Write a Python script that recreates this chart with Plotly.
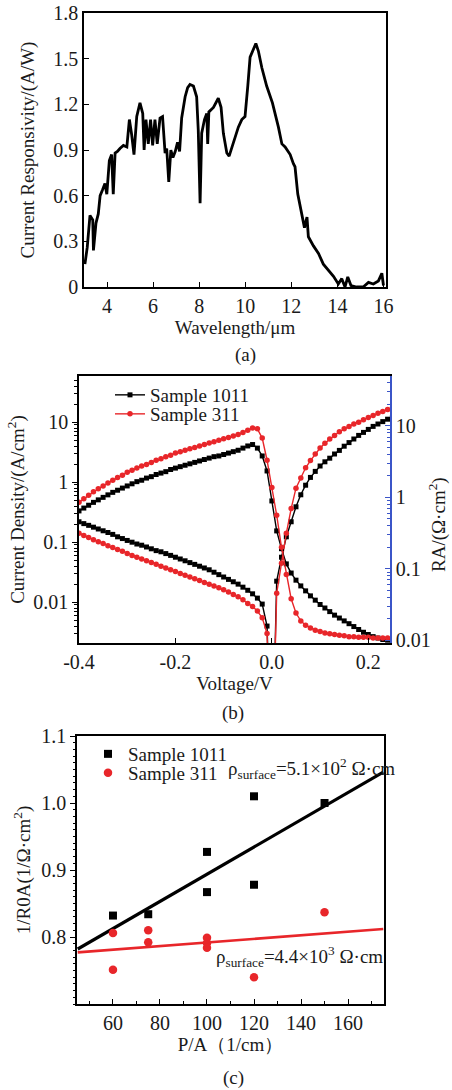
import plotly.graph_objects as go

W, H = 452, 1090
FONT = "Liberation Serif"
INK = "#1a1a1a"

# ---------------- (a) spectral current responsivity ----------------
wavelength = [3.04, 3.14, 3.26, 3.38, 3.41, 3.52, 3.62, 3.70, 3.81, 3.91, 3.99,
              4.10, 4.20, 4.27, 4.35, 4.45, 4.56, 4.71, 4.86, 4.97, 5.07, 5.17,
              5.29, 5.43, 5.55, 5.61, 5.69, 5.79, 5.89, 5.98, 6.08, 6.18, 6.30,
              6.41, 6.52, 6.59, 6.68, 6.77, 6.86, 6.96, 7.06, 7.15, 7.24, 7.39,
              7.50, 7.60, 7.75, 7.89, 7.96, 8.04, 8.11, 8.23, 8.33, 8.37, 8.42,
              8.62, 8.83, 8.95, 9.05, 9.20, 9.30, 9.48, 9.70, 9.85, 9.99, 10.11,
              10.21, 10.35, 10.46, 10.57, 10.72, 10.93, 11.18, 11.44, 11.59,
              11.73, 11.95, 12.09, 12.16, 12.28, 12.42, 12.57, 12.68, 12.74,
              12.96, 13.18, 13.39, 13.61, 13.83, 14.04, 14.19, 14.33, 14.45,
              14.59, 14.83, 15.12, 15.35, 15.56, 15.78, 15.93, 16.00]
responsivity = [0.15, 0.26, 0.47, 0.44, 0.24, 0.42, 0.48, 0.60, 0.64, 0.68, 0.61,
                0.83, 0.87, 0.61, 0.88, 0.89, 0.91, 0.93, 0.92, 1.10, 1.00, 0.87,
                1.12, 1.21, 1.14, 0.90, 1.10, 0.94, 1.10, 0.93, 1.10, 0.94, 1.11,
                1.12, 0.88, 0.91, 0.69, 0.90, 0.85, 0.89, 0.95, 0.89, 1.11, 1.25,
                1.31, 1.33, 1.32, 1.25, 1.03, 0.55, 1.01, 1.10, 1.14, 0.94, 1.15,
                1.18, 1.24, 1.18, 1.01, 0.88, 0.86, 0.95, 1.05, 1.10, 1.12, 1.32,
                1.51, 1.56, 1.60, 1.55, 1.44, 1.32, 1.21, 1.05, 0.94,
                0.92, 0.87, 0.81, 0.79, 0.61, 0.50, 0.39, 0.46, 0.33,
                0.27, 0.22, 0.15, 0.11, 0.07, 0.02, 0.055, 0.0, 0.066,
                0.01, 0.0, 0.0, 0.03, 0.02, 0.04, 0.09, 0.01]

# ---------------- (b) J-V and RA-V ----------------
voltage = [-0.40, -0.39, -0.38, -0.37, -0.36, -0.35, -0.34, -0.33, -0.32, -0.31,
           -0.30, -0.29, -0.28, -0.27, -0.26, -0.25, -0.24, -0.23, -0.22, -0.21,
           -0.20, -0.19, -0.18, -0.17, -0.16, -0.15, -0.14, -0.13, -0.12, -0.11,
           -0.10, -0.09, -0.08, -0.07, -0.06, -0.05, -0.04, -0.03, -0.02, -0.01,
           0.00, 0.01, 0.02, 0.03, 0.04, 0.05, 0.06, 0.07, 0.08, 0.09,
           0.10, 0.11, 0.12, 0.13, 0.14, 0.15, 0.16, 0.17, 0.18, 0.19,
           0.20, 0.21, 0.22, 0.23, 0.24, 0.25]
j_1011 = [0.219, 0.204, 0.191, 0.178, 0.166, 0.155, 0.145, 0.135, 0.123, 0.115,
          0.107, 0.100, 0.0933, 0.0891, 0.0832, 0.0776, 0.0724, 0.0692, 0.0646, 0.0603,
          0.0562, 0.0525, 0.0490, 0.0457, 0.0427, 0.0398, 0.0372, 0.0347, 0.0316, 0.0288,
          0.0263, 0.0240, 0.0219, 0.0200, 0.0178, 0.0158, 0.0138, 0.0117, 0.0093, 0.0040,
          0.00001, 0.0224, 0.0562, 0.123, 0.219, 0.389, 0.617, 0.891, 1.202, 1.514,
          1.862, 2.188, 2.512, 2.951, 3.388, 3.981, 4.571, 5.248, 6.026, 6.761,
          7.586, 8.511, 9.333, 10.23, 11.22, 12.02]
j_311 = [0.141, 0.129, 0.120, 0.110, 0.102, 0.0955, 0.0871, 0.0813, 0.0759, 0.0708,
         0.0646, 0.0603, 0.0562, 0.0525, 0.0490, 0.0457, 0.0427, 0.0398, 0.0372, 0.0347,
         0.0324, 0.0302, 0.0282, 0.0263, 0.0245, 0.0229, 0.0214, 0.0200, 0.0186, 0.0174,
         0.0162, 0.0148, 0.0135, 0.0123, 0.0110, 0.0095, 0.0085, 0.0071, 0.0055, 0.0030,
         0.00001, 0.0141, 0.0447, 0.141, 0.363, 0.794, 1.175, 1.738, 2.291, 2.951,
         3.715, 4.467, 5.248, 6.026, 6.918, 7.762, 8.511, 9.333, 10.0, 10.96,
         12.02, 12.88, 14.13, 15.14, 16.22, 17.38]
ra_1011 = [0.646, 0.708, 0.776, 0.851, 0.923, 1.000, 1.084, 1.175, 1.259, 1.349,
           1.445, 1.549, 1.660, 1.738, 1.862, 1.950, 2.089, 2.188, 2.291, 2.455,
           2.570, 2.692, 2.818, 2.951, 3.090, 3.236, 3.388, 3.548, 3.715, 3.802,
           3.981, 4.169, 4.365, 4.571, 4.898, 5.248, 5.495, 4.898, 3.802, 2.344,
           0.891, 0.339, 0.191, 0.117, 0.0871, 0.0692, 0.0575, 0.0490, 0.0417, 0.0363,
           0.0316, 0.0282, 0.0251, 0.0224, 0.0204, 0.0186, 0.0170, 0.0155, 0.0141, 0.0129,
           0.0120, 0.0112, 0.0107, 0.0102, 0.0100, 0.0098]
ra_311 = [0.851, 0.955, 1.072, 1.202, 1.318, 1.445, 1.585, 1.738, 1.905, 2.042,
          2.239, 2.399, 2.570, 2.754, 2.884, 3.090, 3.311, 3.467, 3.715, 3.890,
          4.169, 4.365, 4.571, 4.786, 5.012, 5.248, 5.495, 5.754, 6.026, 6.310,
          6.607, 6.918, 7.244, 7.586, 8.128, 8.710, 9.333, 9.120, 6.761, 3.311,
          1.380, 0.562, 0.200, 0.0832, 0.0380, 0.0240, 0.0186, 0.0162, 0.0148, 0.0138,
          0.0132, 0.0126, 0.0123, 0.0120, 0.0117, 0.0115, 0.0112, 0.0112, 0.0110, 0.0110,
          0.0110, 0.0107, 0.0107, 0.0107, 0.0107, 0.0107]

# ---------------- (c) 1/R0A versus P/A ----------------
pa_1011 = [60, 75, 100, 100, 120, 120, 150]
inv_r0a_1011 = [0.832, 0.834, 0.927, 0.867, 1.010, 0.878, 1.000]
pa_311 = [60, 60, 75, 75, 100, 100, 100, 120, 150]
inv_r0a_311 = [0.806, 0.751, 0.810, 0.792, 0.799, 0.791, 0.784, 0.740, 0.837]
fit_pa = [45, 175]
fit_1011 = [0.782, 1.046]
fit_311 = [0.777, 0.812]


def fx(p):
    return p / W


def fy(p):
    return 1 - p / H


RED = "#e8262a"
BLUE = "#3b55c8"

fig = go.Figure()

# (a)
fig.add_trace(go.Scatter(x=wavelength, y=responsivity, mode="lines",
                         line=dict(color="black", width=2.8), showlegend=False,
                         xaxis="x", yaxis="y"))

# (b) current density on the left axis, RA on the right axis
fig.add_trace(go.Scatter(x=voltage, y=j_1011, mode="lines+markers", name="Sample 1011",
                         line=dict(color="black", width=1.4),
                         marker=dict(symbol="square", size=5, color="black"),
                         xaxis="x2", yaxis="y2", legend="legend", legendgroup="1011"))
fig.add_trace(go.Scatter(x=voltage, y=ra_1011, mode="lines+markers", name="Sample 1011",
                         line=dict(color="black", width=1.4),
                         marker=dict(symbol="square", size=5, color="black"),
                         xaxis="x2", yaxis="y3", showlegend=False, legendgroup="1011"))
fig.add_trace(go.Scatter(x=voltage, y=j_311, mode="lines+markers", name="Sample 311",
                         line=dict(color=RED, width=1.4),
                         marker=dict(symbol="circle", size=5.5, color=RED),
                         xaxis="x2", yaxis="y2", legend="legend2", legendgroup="311"))
fig.add_trace(go.Scatter(x=voltage, y=ra_311, mode="lines+markers", name="Sample 311",
                         line=dict(color=RED, width=1.4),
                         marker=dict(symbol="circle", size=5.5, color=RED),
                         xaxis="x2", yaxis="y3", showlegend=False, legendgroup="311"))

# (c)
fig.add_trace(go.Scatter(x=fit_pa, y=fit_1011, mode="lines", showlegend=False,
                         line=dict(color="black", width=3.2), xaxis="x3", yaxis="y4"))
fig.add_trace(go.Scatter(x=fit_pa, y=fit_311, mode="lines", showlegend=False,
                         line=dict(color=RED, width=2.6), xaxis="x3", yaxis="y4"))
fig.add_trace(go.Scatter(x=pa_1011, y=inv_r0a_1011, mode="markers", name="Sample 1011",
                         marker=dict(symbol="square", size=8, color="black"),
                         xaxis="x3", yaxis="y4", legend="legend3"))
fig.add_trace(go.Scatter(x=pa_311, y=inv_r0a_311, mode="markers", name="Sample 311",
                         marker=dict(symbol="circle", size=8.5, color=RED),
                         xaxis="x3", yaxis="y4", legend="legend4"))

tickfont = dict(family=FONT, size=20, color=INK)
titlefont = dict(family=FONT, size=19, color=INK)
frame = dict(showline=True, linecolor="black", linewidth=1.5, showgrid=False,
             zeroline=False, tickfont=tickfont, ticklen=5, tickcolor="black",
             automargin=False)

layout = dict(
    template="none",
    width=W, height=H, autosize=False,
    margin=dict(l=0, r=0, t=0, b=0),
    paper_bgcolor="white", plot_bgcolor="white",
    font=dict(family=FONT, size=19, color=INK),
    # (a)
    xaxis=dict(frame, domain=[fx(84), fx(386)], anchor="y", range=[3, 16.11],
               tickvals=[4, 6, 8, 10, 12, 14, 16], ticks="inside", mirror=True,
               title=dict(text="Wavelength/μm", font=titlefont, standoff=4)),
    yaxis=dict(frame, domain=[fy(287), fy(13)], anchor="x", range=[0, 1.8],
               tickvals=[0, 0.3, 0.6, 0.9, 1.2, 1.5, 1.8],
               ticktext=["0", "0.3", "0.6", "0.9", "1.2", "1.5", "1.8"],
               ticks="inside", mirror=True,
               title=dict(text="Current Responsivity/(A/W)", font=titlefont, standoff=14)),
    # (b)
    xaxis2=dict(frame, domain=[fx(79), fx(390)], anchor="y2", range=[-0.4, 0.245],
                tickvals=[-0.4, -0.2, 0.0, 0.2], ticktext=["-0.4", "-0.2", "0.0", "0.2"],
                ticks="inside", mirror=True,
                title=dict(text="Voltage/V", font=titlefont, standoff=4)),
    yaxis2=dict(frame, domain=[fy(643), fy(376)], anchor="x2", type="log",
                range=[-2.68, 1.77], tickvals=[0.01, 0.1, 1, 10],
                ticktext=["0.01", "0.1", "1", "10"], ticks="outside",
                minor=dict(ticks="outside", ticklen=3, tickcolor="black", dtick="D1"),
                title=dict(text="Current Density/(A/cm<sup>2</sup>)", font=titlefont,
                           standoff=4)),
    yaxis3=dict(frame, overlaying="y2", anchor="x2", side="right", type="log",
                range=[-2.04, 1.70], tickvals=[0.01, 0.1, 1, 10],
                ticktext=["0.01", "0.1", "1", "10"], ticks="inside",
                linecolor=BLUE, tickcolor=BLUE,
                minor=dict(ticks="inside", ticklen=3, tickcolor=BLUE, dtick="D1")),
    # (c)
    xaxis3=dict(frame, domain=[fx(77), fx(384)], anchor="y4", range=[44.7, 175.3],
                tickvals=[60, 80, 100, 120, 140, 160], ticks="inside", mirror=True,
                minor=dict(ticks="inside", ticklen=3, tickcolor="black", dtick=10),
                title=dict(text="P/A（1/cm）", font=titlefont, standoff=4)),
    yaxis4=dict(frame, domain=[fy(1004), fy(736)], anchor="x3", range=[0.7, 1.1],
                tickvals=[0.8, 0.9, 1.0, 1.1], ticktext=["0.8", "0.9", "1.0", "1.1"],
                ticks="outside", mirror=True,
                minor=dict(ticks="outside", ticklen=2, tickcolor="black", dtick=0.01),
                title=dict(text="1/R0A(1/Ω·cm<sup>2</sup>)", font=titlefont, standoff=6)),
)

leg = dict(font=dict(family=FONT, size=19, color=INK), bgcolor="rgba(0,0,0,0)",
           xanchor="left", yanchor="middle", itemwidth=30, borderwidth=0)
layout["legend"] = dict(leg, x=fx(110), y=fy(395))
layout["legend2"] = dict(leg, x=fx(110), y=fy(414))
layout["legend3"] = dict(leg, x=fx(88), y=fy(754))
layout["legend4"] = dict(leg, x=fx(88), y=fy(773))

fig.update_layout(**layout)

notes = [
    ("(a)", 245, 355, "center", 0),
    ("(b)", 233, 713, "center", 0),
    ("(c)", 233, 1078, "center", 0),
    ("RA/(Ω·cm<sup>2</sup>)", 437, 525, "center", -90),
    ("ρ<sub>surface</sub>=5.1×10<sup>2</sup> Ω·cm", 226, 768, "left", 0),
    ("ρ<sub>surface</sub>=4.4×10<sup>3</sup> Ω·cm", 214, 956, "left", 0),
]
for text, x, y, anchor, angle in notes:
    fig.add_annotation(text=text, x=fx(x), y=fy(y), xref="paper", yref="paper",
                       xanchor=anchor, yanchor="middle", showarrow=False,
                       textangle=angle, font=dict(family=FONT, size=19, color=INK))

# drop the browser's default page margin so the figure sits at the window origin
fig.write_html("out.html", config={"displayModeBar": False},
               post_script="document.body.style.margin='0';"
                           "document.body.style.overflow='hidden';")
